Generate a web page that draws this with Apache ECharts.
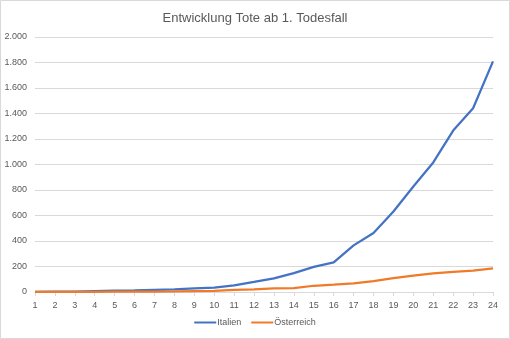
<!DOCTYPE html>
<html>
<head>
<meta charset="utf-8">
<script src="https://cdn.jsdelivr.net/npm/echarts@6/dist/echarts.min.js"></script>
<style>
  html, body { margin: 0; padding: 0; background: #fff; }
  #chart { width: 510px; height: 339px; }
</style>
</head>
<body>
<div id="chart"></div>
<script>
// Tage seit dem ersten Todesfall
const days = ['1','2','3','4','5','6','7','8','9','10','11','12','13','14','15','16','17','18','19','20','21','22','23','24'];
// Kumulierte Todesfälle
const italien = [1, 2, 3, 7, 10, 12, 17, 21, 29, 34, 52, 79, 107, 148, 197, 233, 366, 463, 631, 827, 1016, 1266, 1441, 1809];
const oesterreich = [1, 1, 1, 1, 3, 3, 3, 4, 6, 8, 16, 21, 28, 30, 49, 58, 68, 86, 108, 128, 146, 158, 168, 186];

const FONT = 'Liberation Sans';
const GREY = '#595959';

const chart = echarts.init(document.getElementById('chart'));
chart.setOption({
  animation: false,
  backgroundColor: '#fff',
  textStyle: { fontFamily: FONT },
  title: {
    text: 'Entwicklung Tote ab 1. Todesfall',
    left: 'center',
    top: 7,
    textStyle: { fontFamily: FONT, fontSize: 13, fontWeight: 'normal', color: GREY }
  },
  graphic: [{
    type: 'rect',
    shape: { x: 0.5, y: 0.5, width: 509, height: 338 },
    style: { fill: 'none', stroke: '#D9D9D9', lineWidth: 1 },
    silent: true
  }],
  legend: {
    bottom: 7,
    left: 'center',
    itemGap: 10,
    itemWidth: 22,
    itemHeight: 2,
    icon: 'rect',
    textStyle: { fontFamily: FONT, fontSize: 9, color: GREY, padding: [0, 0, 0, -4] },
    data: ['Italien', 'Österreich']
  },
  grid: { left: 35, right: 17, top: 37, bottom: 47, containLabel: false },
  xAxis: {
    type: 'category',
    data: days,
    boundaryGap: false,
    axisLine: { lineStyle: { color: '#D9D9D9', width: 1 } },
    axisTick: { show: true, alignWithLabel: true, length: 4, lineStyle: { color: '#D9D9D9' } },
    axisLabel: { color: GREY, fontSize: 9, fontFamily: FONT, margin: 9, interval: 0 },
    splitLine: { show: false }
  },
  yAxis: {
    type: 'value',
    min: 0,
    max: 2000,
    interval: 200,
    axisLine: { show: false },
    axisTick: { show: false },
    axisLabel: {
      color: GREY, fontSize: 9, fontFamily: FONT, margin: 8,
      formatter: v => v >= 1000 ? (v / 1000).toFixed(3) : String(v)
    },
    splitLine: { lineStyle: { color: '#D9D9D9', width: 1 } }
  },
  series: [
    {
      name: 'Italien',
      type: 'line',
      data: italien,
      symbol: 'none',
      lineStyle: { color: '#4472C4', width: 2.25 },
      itemStyle: { color: '#4472C4' }
    },
    {
      name: 'Österreich',
      type: 'line',
      data: oesterreich,
      symbol: 'none',
      lineStyle: { color: '#F07A28', width: 2.25 },
      itemStyle: { color: '#F07A28' }
    }
  ]
});
</script>
</body>
</html>
